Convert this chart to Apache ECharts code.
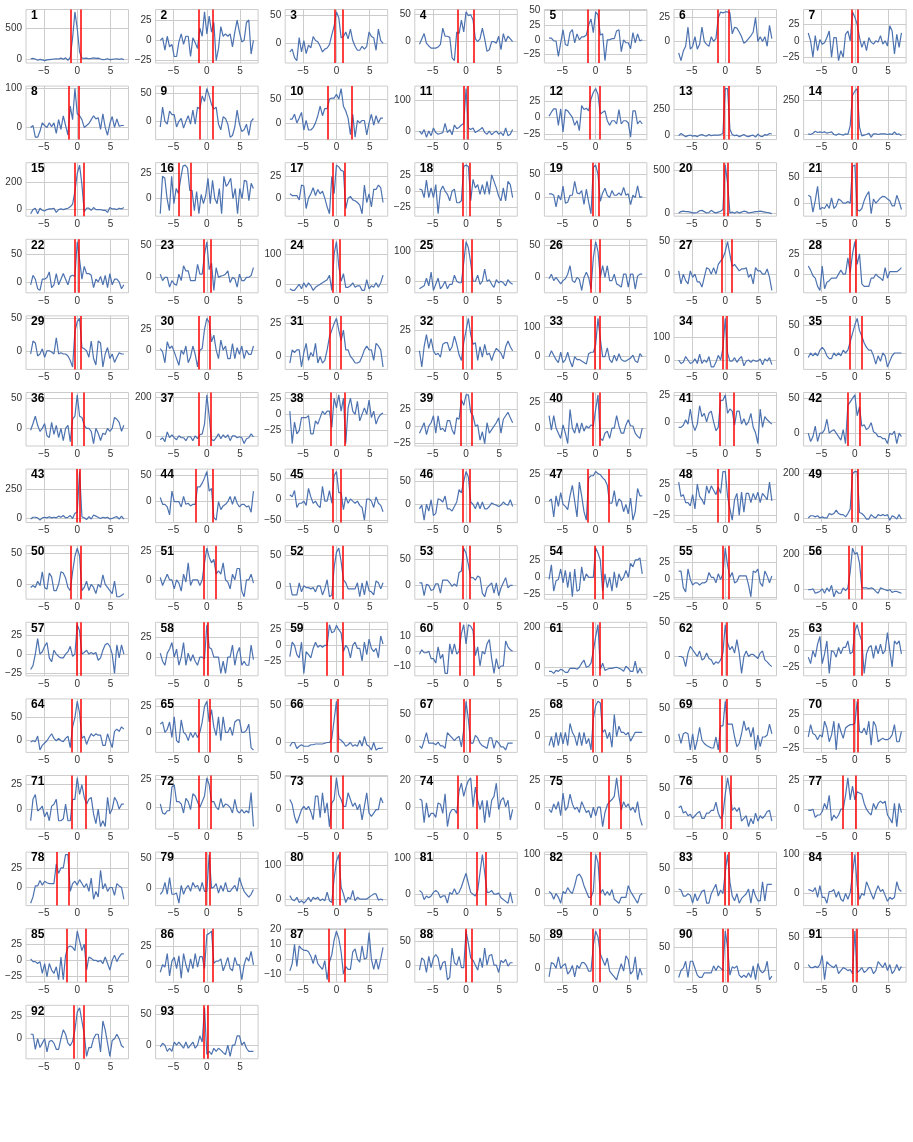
<!DOCTYPE html>
<html>
<head>
<meta charset="utf-8">
<script src="https://cdn.jsdelivr.net/npm/echarts@6/dist/echarts.min.js"></script>
<style>
  html, body { margin: 0; padding: 0; background: #fff; }
  #chart { width: 913px; height: 1142px; }
</style>
</head>
<body>
<div id="chart"></div>
<script>
// one array per panel, sampled evenly from x = -7 to x = 7
const p1 = [10,15,5,-15,0,-10,-20,-10,-5,0,5,10,5,20,0,25,-15,30,350,770,500,120,20,15,20,10,15,25,15,20,5,-5,0,10,-5,0,5,10,0,10,-5]
const p2 = [0,3,-12,5,-8,-5,-20,-20,-2,8,-5,5,5,-20,3,-3,-10,15,5,35,8,30,10,22,-25,-10,17,5,8,5,8,-8,10,25,10,-2,0,22,25,-17,0]
const p3 = [-15,-10,-25,-30,10,-15,5,-18,-3,-8,12,5,3,-5,-15,-10,-8,-2,15,30,55,45,10,12,20,8,25,5,-5,-12,-12,-5,-10,-5,20,12,10,-12,25,5,0]
const p4 = [-5,5,15,-3,-8,-12,-12,-12,-10,-5,25,10,10,8,-30,-35,18,15,40,18,55,48,50,40,5,0,5,25,5,-18,-15,0,0,-3,10,-15,15,0,10,5,0]
const p5 = [3,3,-2,-2,-28,-5,17,-8,-10,12,17,-5,10,0,5,5,8,25,35,12,47,42,8,10,-35,0,0,2,2,15,17,-20,0,-5,-5,-15,12,-5,10,-2,0]
const p6 = [-12,-20,-10,-5,15,-8,-5,5,-8,-3,15,0,-3,-5,5,0,3,25,31,30,31,31,30,8,15,14,10,5,-2,0,3,6,10,25,0,5,0,5,-5,17,3]
const p7 = [12,0,-25,8,-15,2,-5,-3,5,15,-25,5,5,-30,-15,-25,10,15,0,44,36,25,5,-10,0,-15,5,-2,-5,0,-2,8,-5,0,-8,23,15,-20,10,-10,12]
const p8 = [0,5,-25,-25,-10,12,5,0,12,2,12,-15,20,-5,30,5,-20,55,20,100,35,30,20,0,5,10,20,30,22,25,-5,35,0,-20,10,28,0,22,3,5,5]
const p9 = [-10,25,0,-5,18,12,12,-10,0,5,-12,0,10,-5,20,-5,25,22,45,35,58,45,30,22,25,-5,-15,8,5,-5,-28,-25,-10,20,-5,-18,-15,-5,-25,0,5]
const p10 = [8,8,18,0,10,22,-15,5,-15,-15,-10,0,15,35,15,30,30,50,52,52,60,50,72,35,25,10,-25,18,-30,5,0,5,5,-25,0,18,-5,15,0,10,10]
const p11 = [0,-10,5,-20,0,-15,10,-5,-10,-8,-5,25,-5,5,-12,20,8,12,20,25,140,10,5,10,-5,0,5,12,-5,-10,0,-12,-5,0,-10,-5,-15,10,-15,-10,5]
const p12 = [2,8,13,13,-12,13,-22,12,10,5,0,-12,-5,-20,18,12,14,10,28,38,44,35,5,8,10,-5,-12,-5,-5,-10,12,-10,-5,-5,-8,-30,10,10,-10,-5,-10]
const p13 = [0,20,5,-10,0,5,-5,0,-10,5,10,0,-5,10,0,5,5,5,10,20,450,450,60,10,0,5,-10,0,10,-5,-10,0,5,-15,15,-5,-10,10,5,20,15]
const p14 = [0,-5,5,20,10,15,10,15,5,10,15,-5,-10,0,-5,-10,0,-5,60,290,320,340,50,-15,-10,-5,5,-25,0,0,-5,0,0,0,-5,0,-5,15,-5,0,-15]
const p15 = [-30,0,10,-30,10,-5,-10,0,5,5,10,-20,0,5,0,5,10,20,40,130,260,320,180,-15,10,10,-5,15,0,0,0,-5,-5,-20,15,5,5,0,10,5,15]
const p16 = [-15,22,20,0,-12,22,-5,10,5,20,32,33,30,8,8,-12,7,-15,4,-5,3,20,-5,18,0,-5,10,-15,22,12,15,20,0,10,-15,10,0,18,17,-2,15,10]
const p17 = [5,3,3,3,-2,15,14,-12,0,5,12,3,10,5,8,0,-10,-18,25,5,38,36,32,31,-12,0,2,-2,-3,-5,-8,-18,15,-5,5,-10,10,10,15,12,-5]
const p18 = [3,2,-10,17,-10,5,-10,10,-35,0,8,0,-5,-15,0,3,-18,-18,-15,38,40,38,-15,18,5,10,-5,10,-5,15,-5,25,15,5,-8,-15,5,-15,15,10,-10]
const p19 = [8,8,5,-20,5,-5,25,-12,-10,5,5,35,10,8,15,-15,18,-10,-35,65,70,50,-8,10,20,5,0,15,5,5,10,5,22,5,8,-15,5,0,25,0,2]
const p20 = [0,15,20,15,15,10,0,0,5,25,30,15,0,5,30,10,0,10,20,40,560,350,0,10,-5,15,0,10,20,15,0,5,10,15,15,20,15,10,5,0,-10]
const p21 = [15,12,-17,5,32,-12,-8,-10,-2,-10,10,-10,-5,8,5,0,0,3,0,70,72,-12,-15,-10,5,15,22,-20,8,0,5,10,13,12,8,5,-5,-5,15,3,-12]
const p22 = [-5,12,5,-12,-15,5,5,8,18,-10,-5,15,-5,5,15,5,-5,10,12,10,72,40,5,28,15,15,12,-10,5,0,10,-5,12,-10,15,-5,5,5,0,-12,-5]
const p23 = [5,-5,0,0,-15,-5,-10,-12,5,-5,18,10,10,-5,-5,-5,20,5,5,35,55,12,22,-20,15,0,2,3,5,10,-8,0,-2,-15,5,-5,-5,0,0,3,15]
const p24 = [-15,-20,-20,-10,0,-15,5,-10,5,-5,-20,-10,-5,0,5,10,15,30,-20,100,140,60,10,35,-10,-10,-5,5,-10,-5,-5,-20,-20,15,-15,-5,-10,5,-10,5,30]
const p25 = [-25,-20,-15,10,-15,30,-30,-10,10,-25,-15,0,-25,-10,-10,20,0,-5,-5,60,130,110,60,0,0,20,-10,0,40,0,5,-10,-20,5,-5,0,-5,-15,5,-5,-10]
const p26 = [-2,5,-5,0,-5,-10,-5,-2,5,18,-5,-8,0,-3,-20,0,8,0,-18,30,55,40,0,18,0,18,-5,-5,5,-10,-12,-15,5,5,-15,5,5,-18,2,5,5]
const p27 = [5,-15,0,-10,-15,5,-5,0,-12,-12,-20,-5,10,8,0,10,0,15,20,25,35,50,30,12,15,10,5,8,8,10,-5,0,-15,10,5,5,0,0,8,-5,-25]
const p28 = [10,5,-2,-5,-15,-20,10,-18,-10,-8,-5,-5,-5,0,5,0,0,20,2,25,40,12,25,-12,-15,-15,-15,-5,-5,0,-3,-5,-8,8,-5,3,3,3,3,5,8]
const p29 = [-5,15,12,-8,-5,3,-10,0,0,-2,-5,20,-5,-3,-5,-5,-8,-15,-25,30,45,50,5,3,0,-10,15,-12,-22,15,12,-25,-5,5,-12,-5,-18,-10,-3,-5,-5]
const p30 = [2,-2,-15,10,2,5,-2,-10,-18,0,-5,5,-15,-8,5,-5,-20,0,2,25,38,33,10,18,0,-10,12,0,5,-10,-10,8,-10,3,-5,5,-10,0,-5,-5,5]
const p31 = [-5,5,3,5,5,-8,3,10,-3,3,0,10,-5,0,-5,-3,5,15,20,25,29,20,12,20,5,5,0,-2,-5,-5,-4,0,5,8,5,5,-3,10,8,5,-8]
const p32 = [0,-20,5,20,3,15,0,-5,-3,-8,8,10,10,0,5,18,8,-5,-12,10,25,40,20,8,10,-12,5,-8,8,-5,-3,-12,-3,3,0,-3,-10,5,12,5,0]
const p33 = [0,20,5,-10,-20,15,-20,-10,15,-15,-35,0,-10,-10,-15,-20,-25,10,15,15,40,130,60,0,0,30,-10,-20,5,-15,10,-10,-15,-15,-10,-5,5,-15,-20,10,0]
const p34 = [0,-15,-10,15,0,-15,-10,5,-15,25,-15,0,-10,15,-30,-30,-10,20,0,50,180,30,-5,-5,10,-10,5,15,-25,-5,0,-10,0,-5,-5,5,-20,5,-5,10,-20]
const p35 = [-8,0,-5,0,-5,5,10,5,-5,-10,-10,0,-5,0,-5,5,0,5,20,35,50,62,40,30,18,10,5,5,-5,-20,-5,-15,0,-5,-25,-15,-5,0,0,0,0]
const p36 = [-3,8,20,5,-5,0,8,-12,-15,10,-10,5,-15,0,-20,0,5,-22,15,20,55,20,18,5,0,0,-5,-25,0,-8,-20,-8,-10,0,-5,0,18,15,10,-5,5]
const p37 = [-20,-10,-30,20,-10,5,-10,-20,0,-10,-10,-25,-5,-5,-25,0,-15,5,10,60,210,100,-20,-25,-10,10,-15,5,-10,5,-25,0,0,-10,-5,-10,-40,-15,-10,10,-5]
const p38 = [5,-45,-12,-30,-25,-5,-5,-5,-2,-30,-30,-10,-15,-5,5,0,5,5,-20,25,10,30,5,25,-45,10,25,5,0,20,-10,0,10,0,22,-5,5,-15,-5,0,2]
const p39 = [-10,-3,5,-12,0,5,15,-10,15,-5,-3,-8,8,8,-5,-12,12,10,38,30,45,45,20,15,0,2,-20,-8,-25,5,-10,-5,0,5,12,-10,10,15,20,12,5]
const p40 = [12,-2,12,0,-5,-10,3,-5,-15,18,0,-5,5,-5,5,-3,2,0,3,2,18,32,-10,-12,-5,-3,-10,0,0,12,2,-5,-5,3,8,2,2,-5,-8,-10,0]
const p41 = [-5,-5,-3,2,-2,12,-2,-8,-2,15,5,8,0,8,10,0,-8,-5,20,20,25,8,12,10,-3,10,10,-2,3,-3,0,8,-5,-10,-20,12,-5,5,2,0,-2]
const p42 = [0,-12,-5,10,-12,0,0,5,20,0,3,5,0,-5,-10,5,-15,40,45,50,55,25,38,10,12,5,8,15,2,0,-5,-5,-8,-8,-15,0,-2,3,-15,0,-5]
const p43 = [-10,5,5,0,-20,0,5,0,10,0,5,0,15,5,20,0,5,20,-5,40,50,400,10,0,-15,10,-10,25,15,5,-5,5,0,5,-10,-5,5,10,-10,15,-10]
const p44 = [8,-5,-5,-10,-25,20,0,0,0,-10,10,-5,-3,-8,-5,-5,28,28,35,45,57,20,25,-30,-35,0,-15,-8,-5,0,10,-5,10,-3,-10,-5,-5,-10,-8,-20,20]
const p45 = [10,5,20,-20,-10,-10,-5,-15,25,5,-10,-5,-15,-20,30,-5,-5,20,-10,55,65,15,15,-25,5,-10,0,-5,-10,-5,-15,-20,-50,0,0,-5,-20,5,-10,-15,-30]
const p46 = [-10,-2,-35,0,-15,10,-25,-20,12,10,5,18,-10,-10,-15,-5,5,32,25,50,72,60,5,0,-10,5,-10,5,-10,-10,-5,3,0,-2,-5,-2,5,0,-2,10,-5]
const p47 = [0,2,-15,5,-5,8,-3,-5,-8,5,15,0,-15,18,5,-10,-18,22,24,24,28,26,25,22,20,15,-2,-2,10,-5,2,0,-10,-3,-12,3,-18,-10,12,5,5]
const p48 = [28,5,8,-5,-5,-10,8,-15,25,5,0,-8,22,10,22,15,8,20,10,45,45,5,-15,-33,0,10,-25,12,-20,10,10,-5,10,0,12,-5,10,5,0,28,-2]
const p49 = [0,10,10,5,10,0,5,0,0,20,15,20,35,20,15,15,5,20,40,200,210,210,25,20,10,-5,-5,15,5,0,15,10,15,10,15,-10,10,5,-5,15,-5]
const p50 = [-5,-2,-5,5,-2,20,-5,-8,18,12,-10,-10,0,20,18,10,-5,-10,20,45,58,45,-10,-5,5,-10,0,-5,-15,0,-5,15,0,-5,-10,-15,5,-20,-20,-18,-15]
const p51 = [2,-5,0,5,0,0,-8,0,-3,-10,5,-2,15,-5,0,0,0,-5,0,15,28,20,15,18,5,8,5,15,0,-2,-8,5,0,10,10,-10,-15,0,0,5,-3]
const p52 = [5,-15,-15,-15,5,-10,0,-3,-3,-5,-3,-10,0,0,-15,-5,10,-18,-15,30,55,62,40,10,5,-5,-5,-5,-5,5,-18,5,-15,8,-8,-10,-15,8,5,-5,5]
const p53 = [5,5,-20,2,0,-10,-8,3,3,-15,10,10,10,5,-2,3,-2,25,28,72,62,40,15,15,10,18,15,-15,-22,-5,0,5,-15,5,-20,-5,5,15,-5,0,0]
const p54 = [-3,18,-20,-5,-3,12,-8,10,-15,8,-28,12,-20,-18,15,-5,5,0,0,0,42,35,25,-20,5,-15,0,-20,8,-15,5,-5,0,10,0,20,15,25,25,28,5]
const p55 = [12,12,-12,-18,15,0,-8,-5,-5,-8,-5,-5,-3,10,3,3,-5,8,0,8,45,20,3,10,-5,-3,5,5,5,5,-8,-25,12,10,15,-5,-10,12,5,-5,5]
const p56 = [0,0,5,-20,-15,-10,5,-20,10,-10,25,-40,-5,-20,-20,10,-5,10,100,235,200,210,150,10,10,10,5,10,5,-10,-20,10,5,0,-5,0,-15,-10,-10,-15,-20]
const p57 = [-20,-15,0,20,0,3,10,15,-5,-10,5,0,-3,-5,-5,0,3,10,-3,0,38,30,0,2,5,0,2,0,2,-8,-5,5,12,14,10,0,-25,12,-5,12,0]
const p58 = [5,-5,-10,5,10,18,0,10,-10,0,18,-10,5,-5,3,-5,-10,0,0,-2,40,12,10,0,0,0,-20,-5,-20,0,0,15,-10,5,12,-10,-5,-10,-10,15,-3]
const p59 = [-18,5,0,-15,-20,5,-45,-10,-15,-20,-5,5,-3,0,-3,0,0,33,20,22,32,25,20,-10,0,-5,-20,0,5,-5,-5,-25,5,-15,10,-5,-10,-5,-20,15,2]
const p60 = [-2,1,-1,-1,0,-5,-5,-8,3,-5,-2,-15,-15,5,-2,5,-2,0,12,18,5,18,17,14,-3,3,-10,0,-2,5,8,-5,-15,-5,-12,-10,-10,7,3,1,0]
const p61 = [-20,-20,-30,-15,-20,-10,-15,-25,-25,-5,-5,-5,-10,0,20,35,0,5,20,80,150,210,-10,20,-15,-10,-5,-5,-2,0,-5,-10,-20,5,-5,-20,-20,30,-30,-5,-30]
const p62 = [0,0,-2,-15,5,15,10,5,0,8,-5,-3,5,-3,-5,-12,-8,-10,-5,5,47,20,10,15,5,25,5,-25,0,8,0,3,3,0,-3,5,8,-5,-8,-12,-15]
const p63 = [-10,-20,0,-10,10,22,-20,-5,15,-35,0,-2,-10,5,-5,5,5,15,-5,-2,30,40,25,15,-35,-5,5,8,-12,8,-5,10,-5,0,28,0,-25,15,10,15,-5]
const p64 = [-3,0,-2,10,-20,-10,-5,0,8,15,5,0,5,0,-2,5,10,-15,30,50,85,60,5,10,-8,5,15,10,15,12,12,-10,-10,15,0,-15,20,25,20,30,25]
const p65 = [8,10,0,3,10,-5,15,-8,-10,12,0,-2,-8,0,-5,0,-5,0,10,25,30,10,22,5,-3,15,-8,15,0,0,5,-3,10,12,12,0,0,2,8,-15,-17]
const p66 = [-5,0,0,-8,-5,-3,-5,-5,-5,-3,-3,-2,-2,-2,-2,-1,0,0,5,30,55,5,3,0,-5,-3,0,-5,-3,-5,3,-5,8,-3,-5,-10,0,-10,-8,-8,-7]
const p67 = [-10,-15,0,15,-5,-5,-5,-8,-3,-10,-10,-15,15,10,5,0,5,8,-12,20,75,40,-5,-5,10,5,-5,-10,-12,-15,5,5,-15,0,-5,-12,-12,-18,-5,-5,-5]
const p68 = [-10,0,-12,5,-10,5,-8,5,-10,15,5,0,-10,5,-10,5,-8,-2,-15,20,35,40,38,5,8,-2,5,-12,25,0,12,5,5,2,5,-5,0,5,5,5,5]
const p69 = [10,-5,10,12,10,-15,10,-15,0,20,0,-5,-8,-10,-12,-12,5,-15,22,22,60,25,25,25,5,-10,-5,10,30,15,20,5,20,-15,8,-10,5,5,8,25,10]
const p70 = [-8,10,-3,-5,-12,-5,-8,15,5,-15,-5,15,-27,12,0,-10,5,8,10,10,12,44,0,-2,5,-5,15,-20,15,8,-15,-12,-10,-12,-12,-10,-5,10,-15,-15,0]
const p71 = [-12,10,15,-2,0,3,-8,-3,-12,3,5,10,-12,-12,-10,5,-12,-12,10,10,32,15,25,12,5,10,12,-5,-15,0,-18,-12,-18,12,-5,0,12,8,0,5,5]
const p72 = [3,-5,-6,-3,-3,18,20,5,5,3,-5,8,5,-2,12,10,5,0,5,10,26,20,5,5,0,-2,8,0,3,2,0,-5,7,-3,-5,-2,-5,-3,-5,13,-17]
const p73 = [15,8,-10,-20,-10,0,5,0,5,-3,-15,20,20,-12,25,-5,10,-25,10,15,47,22,15,5,5,25,15,5,10,0,8,-15,5,25,-5,-10,-5,0,0,18,10]
const p74 = [6,5,-12,3,-8,-5,-5,-8,3,2,-5,10,-15,-5,-2,-2,-5,12,18,8,15,20,22,0,15,5,-2,5,-12,5,-8,5,8,18,-2,5,7,0,5,-10,-2]
const p75 = [-2,-5,3,-2,5,-8,13,-3,0,12,3,-2,0,-5,5,0,-5,-3,-10,0,-8,0,0,-18,-5,2,5,7,10,27,10,-3,5,0,3,-3,0,-5,5,-10,-17]
const p76 = [15,18,5,8,0,3,-5,0,5,8,-5,-5,5,5,10,10,25,5,-5,2,40,70,45,10,15,8,15,-10,-5,0,-20,-5,-15,5,-10,0,-5,0,8,10,-10]
const p77 = [-1,-1,0,-7,-5,-5,-2,5,0,12,-10,-5,-8,-5,0,0,12,27,8,20,8,15,14,13,5,0,-3,-5,5,0,5,7,5,7,-5,-8,-12,5,-15,5,-3]
const p78 = [-20,-12,2,2,9,3,8,6,5,5,5,30,18,25,25,42,42,-5,5,8,3,10,5,0,5,-5,12,-15,-5,-12,22,-2,5,-5,0,0,-10,5,2,0,-15]
const p79 = [-10,-5,10,-10,18,-10,-10,-8,-25,5,-10,0,5,-5,10,2,5,-5,10,-5,-5,57,0,2,8,-8,5,-5,10,-5,-5,0,5,-5,18,5,-5,-10,-15,-10,-2]
const p80 = [10,-2,-5,5,-10,-5,-12,-5,5,-8,5,0,5,-5,0,-5,20,-5,-10,60,110,130,35,15,-10,5,0,25,-5,5,0,0,0,0,5,10,15,15,-3,0,-3]
const p81 = [10,5,-15,-5,-10,-5,5,10,5,-10,-5,-5,-25,5,0,15,0,5,20,40,58,30,5,0,-5,10,60,110,60,5,5,10,0,0,3,-10,-15,-20,-25,5,-25]
const p82 = [5,0,-15,0,-10,-25,5,0,15,5,0,20,45,50,40,20,5,-10,-10,5,100,80,0,10,-5,5,-5,10,-15,-20,-25,-10,-10,-10,20,5,-5,-15,-25,-5,0]
const p83 = [5,3,-10,-10,-5,-8,-25,-5,-20,-10,0,3,-25,-25,-5,5,15,-10,3,-5,40,78,20,-10,-20,-5,-25,-15,-10,-5,5,-25,5,-10,-20,-20,20,-20,15,15,15]
const p84 = [10,8,5,15,-10,20,-10,-10,-25,5,5,10,-10,5,-15,-20,0,-15,2,50,100,20,-15,0,-5,30,15,0,-15,5,20,5,10,-5,-20,-10,-15,-10,30,10,5]
const p85 = [2,-2,-2,-5,-2,-20,-5,-25,-5,-15,-20,-10,-30,5,-30,8,20,22,20,15,45,30,15,25,-15,5,3,0,0,-2,0,-5,5,-5,-15,0,8,-2,5,10,10]
const p86 = [-10,0,-3,15,-15,5,10,-5,12,-18,15,0,-10,8,-5,15,-3,11,11,-5,40,42,45,2,5,5,8,-8,0,10,-5,-8,10,0,0,-20,0,10,5,18,0]
const p87 = [-8,-3,10,-5,9,7,6,6,5,2,-3,3,-3,-5,-7,-1,-14,-2,3,13,19,14,5,-10,-5,-7,-7,5,7,0,-2,9,0,1,18,0,-7,0,-7,0,8]
const p88 = [-10,15,10,-15,18,-5,15,22,15,-10,5,8,-30,-25,35,5,0,18,-5,-5,70,45,15,10,0,-10,15,-5,35,0,20,22,0,0,-15,10,5,12,-2,5,5]
const p89 = [-15,10,8,0,20,0,5,8,-10,-5,5,-15,5,0,10,10,5,-5,-5,40,65,55,25,15,5,18,-5,-10,-15,-20,-5,8,-5,22,15,-10,-5,20,-20,0,-12]
const p90 = [-15,0,5,20,-15,20,20,5,-10,-15,-15,-5,-5,-5,-5,10,0,10,5,0,85,50,-10,8,5,10,-10,-15,-10,-15,-5,-15,10,-20,15,0,-5,0,20,-20,-12]
const p91 = [5,0,0,2,0,5,20,-20,10,5,2,0,5,-10,-5,0,-2,-5,-3,-10,60,-8,-5,0,-8,-5,0,0,-10,-5,10,5,0,8,-5,5,-10,-5,5,-5,2]
const p92 = [5,5,-12,0,-10,-5,0,-15,-3,-2,-5,-12,-12,0,10,5,-5,-8,-3,10,30,35,20,5,-20,-10,-10,0,5,5,-15,20,10,-5,-20,-2,0,5,0,-8,-10]
const p93 = [-3,3,0,-10,-5,-10,5,0,5,0,-5,5,-5,0,5,-5,0,15,5,60,-15,-10,-15,-5,-10,-5,-8,-12,-15,0,-18,0,0,15,15,0,5,-5,-10,-10,-10]

const panels = [p1,p2,p3,p4,p5,p6,p7,p8,p9,p10,p11,p12,p13,p14,p15,p16,p17,p18,p19,p20,
  p21,p22,p23,p24,p25,p26,p27,p28,p29,p30,p31,p32,p33,p34,p35,p36,p37,p38,p39,p40,
  p41,p42,p43,p44,p45,p46,p47,p48,p49,p50,p51,p52,p53,p54,p55,p56,p57,p58,p59,p60,
  p61,p62,p63,p64,p65,p66,p67,p68,p69,p70,p71,p72,p73,p74,p75,p76,p77,p78,p79,p80,
  p81,p82,p83,p84,p85,p86,p87,p88,p89,p90,p91,p92,p93]

// y tick spacing per panel
const yStep = [500,25,50,50,25,25,25,100,50,50,100,25,250,250,200,25,25,25,50,500,
  50,50,50,100,100,50,50,25,50,25,25,25,100,100,50,50,200,25,25,25,
  25,50,250,50,50,50,25,25,200,50,25,50,50,25,25,200,25,25,25,10,
  200,50,25,50,25,50,50,25,50,25,25,25,50,20,25,50,25,25,50,100,
  100,100,50,100,25,25,10,50,50,50,50,25,50]

// the two red vertical markers of each panel (x positions)
const redLines = [[-1.0,0.5],[-1.2,0.9],[-0.3,0.9],[-1.2,1.2],[-1.2,0.5],[-1.2,0.5],[-0.5,0.5],[-1.3,0.2],[-1.0,0.9],[-1.3,2.3],
  [-0.4,0.2],[-0.9,0.6],[-0.3,0.5],[-0.4,0.5],[-0.4,1.0],[-4.2,-2.4],[-0.5,1.2],[-0.5,0.5],[-0.5,0.5],[-0.3,0.4],
  [-0.5,0.3],[-0.4,0.2],[-0.4,0.6],[-0.5,0.5],[-0.5,0.9],[-0.7,0.6],[-0.5,1.0],[-0.8,0.1],[-0.4,0.6],[-1.2,0.5],
  [-1.0,0.6],[-0.5,0.9],[-0.1,0.6],[-0.4,0.2],[-0.8,1.0],[-0.9,1.0],[-1.2,0.6],[-0.8,1.3],[-0.8,0.8],[-0.4,0.6],
  [-0.8,1.3],[-1.1,0.8],[-0.1,0.4],[-1.6,0.9],[-0.6,0.6],[-0.5,0.5],[-1.2,2.0],[-1.2,0.5],[-0.5,0.5],[-1.0,0.6],
  [-0.5,1.3],[-0.6,0.9],[-0.5,0.5],[-0.1,1.0],[-0.4,0.5],[-0.9,1.0],[-0.1,0.5],[-0.4,0.2],[-1.4,0.9],[-0.9,1.2],
  [-0.5,0.6],[-0.5,0.3],[-0.2,1.0],[-0.9,0.6],[-1.2,0.5],[-0.8,0.2],[-0.3,0.5],[-0.5,0.9],[-0.8,0.3],[-0.1,0.4],
  [-0.9,1.3],[-1.2,0.6],[-0.8,1.0],[-1.3,1.6],[2.0,3.7],[-0.5,0.9],[-1.8,0.2],[-3.1,-1.3],[-0.1,0.5],[-0.5,0.5],
  [1.6,3.0],[-0.8,0.6],[-0.1,0.5],[-0.5,0.5],[-1.6,1.3],[-0.4,0.9],[-1.2,1.2],[-0.1,0.8],[-0.5,0.6],[-0.4,0.4],
  [-0.3,0.3],[-0.5,1.0],[-0.5,0.2]]

const xTicks = [-5, 0, 5]

// layout of the 7-column grid of small plots
const COLS = 7
const LEFT0 = 26, COL_W = 129.6, PLOT_W = 102.5
const TOP0 = 9.5, ROW_H = 76.6, PLOT_H = 53.5
const FONT = "'Liberation Sans', Arial, sans-serif"
const GRID_COLOR = '#cccccc'

const fmt = v => String(v).replace('-', '\u2212')

const grid = []
const xAxis = []
const yAxis = []
const series = []
const graphic = []

panels.forEach((vals, k) => {
  const c = k % COLS
  const r = Math.floor(k / COLS)
  const left = LEFT0 + c * COL_W
  const top = TOP0 + r * ROW_H

  grid.push({
    left, top, width: PLOT_W, height: PLOT_H,
    show: true, borderColor: GRID_COLOR, borderWidth: 1, backgroundColor: '#fff'
  })

  // matplotlib-like 5% margins on the y range
  const lo = Math.min(...vals)
  const hi = Math.max(...vals)
  const pad = (hi - lo) * 0.05
  const ymin = lo - pad
  const ymax = hi + pad
  const step = yStep[k]
  const yTicks = []
  for (let t = Math.ceil(ymin / step) * step; t <= ymax; t += step) yTicks.push(t)

  xAxis.push({
    type: 'value', gridIndex: k, min: -7.7, max: 7.7,
    axisLine: { show: false },
    axisTick: { show: false, customValues: xTicks },
    axisLabel: { customValues: xTicks, formatter: fmt, color: '#333', fontSize: 10, fontFamily: FONT, margin: 3 },
    splitLine: { show: true, lineStyle: { color: GRID_COLOR, width: 1 } }
  })
  yAxis.push({
    type: 'value', gridIndex: k, min: ymin, max: ymax,
    axisLine: { show: false },
    axisTick: { show: false, customValues: yTicks },
    axisLabel: { customValues: yTicks, formatter: fmt, color: '#333', fontSize: 10, fontFamily: FONT, margin: 4 },
    splitLine: { show: true, lineStyle: { color: GRID_COLOR, width: 1 } }
  })

  const n = vals.length
  series.push({
    type: 'line', xAxisIndex: k, yAxisIndex: k,
    data: vals.map((v, i) => [-7 + 14 * i / (n - 1), v]),
    symbol: 'none', silent: true,
    lineStyle: { color: '#4c72b0', width: 1.2 },
    markLine: {
      silent: true, symbol: 'none', label: { show: false },
      lineStyle: { color: '#ff0000', width: 1.5, type: 'solid' },
      data: redLines[k].map(x => ({ xAxis: x }))
    }
  })

  graphic.push({
    type: 'text', left: left + 5, top: top, z: 100,
    style: { text: String(k + 1), font: 'bold 12px ' + FONT, fill: '#000' }
  })
})

const chart = echarts.init(document.getElementById('chart'))
chart.setOption({
  animation: false,
  backgroundColor: '#fff',
  grid, xAxis, yAxis, series, graphic
})
</script>
</body>
</html>
